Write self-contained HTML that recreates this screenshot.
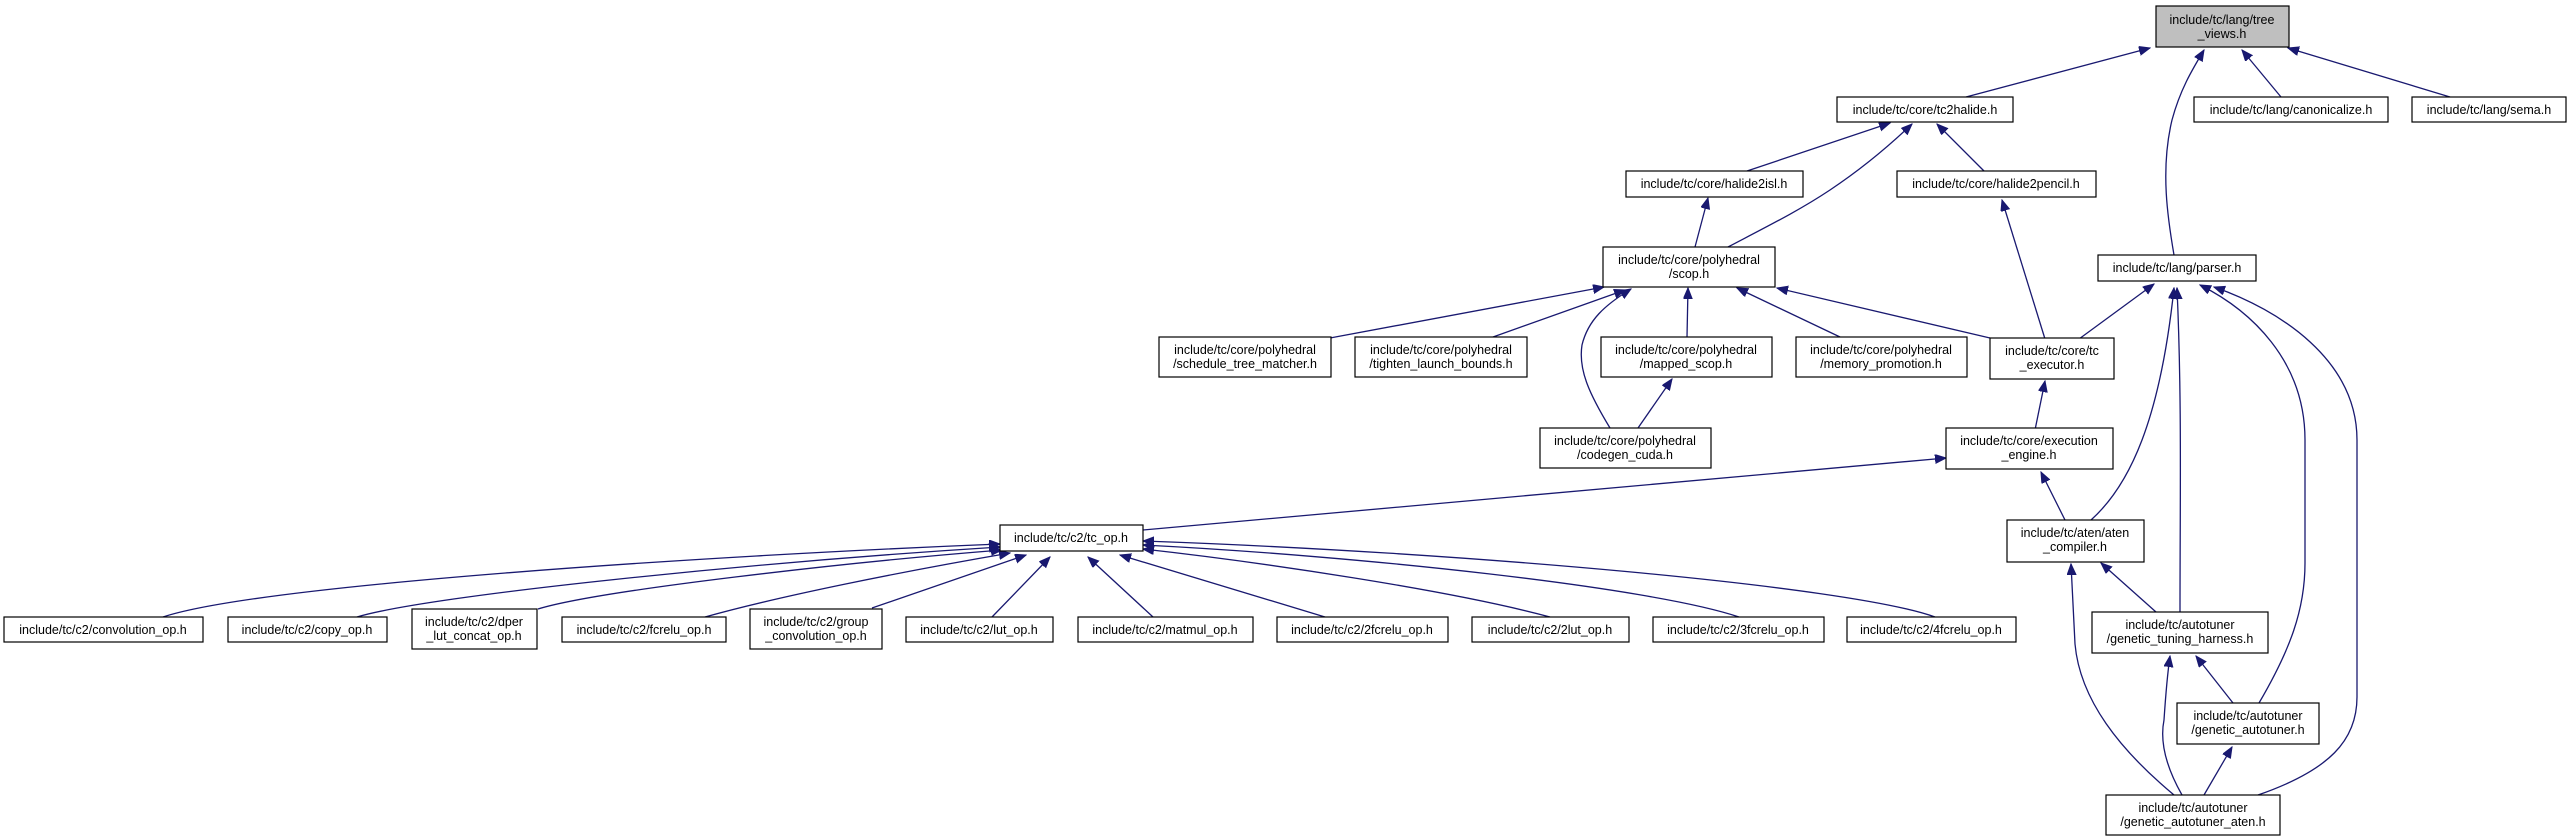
<!DOCTYPE html>
<html><head><meta charset="utf-8">
<style>
html,body{margin:0;padding:0;background:#fff;}
svg{display:block;}
text{font-family:"Liberation Sans",Helvetica,Arial,sans-serif;font-size:12.5px;fill:#000;text-anchor:middle;}
.n{fill:#fff;stroke:#000;stroke-width:1.2;}
.e{fill:none;stroke:#191970;stroke-width:1.3;marker-end:url(#a);}
</style></head><body>
<svg width="2569" height="837" viewBox="0 0 2569 837" xmlns="http://www.w3.org/2000/svg">
<defs>
<marker id="a" markerUnits="userSpaceOnUse" markerWidth="12" markerHeight="10" refX="11" refY="4.5" orient="auto">
<path d="M0,0 L11,4.5 L0,9 z" fill="#191970" stroke="#191970"/>
</marker>
</defs>

<!-- edges -->
<path class="e" d="M1966,97 L2150,48"/>
<path class="e" d="M2174,255 C2168,220 2160,170 2172,120 C2180,90 2192,70 2204,50"/>
<path class="e" d="M2281,97 L2242,50"/>
<path class="e" d="M2450,97 L2288,48"/>
<path class="e" d="M1747,171 L1890,123"/>
<path class="e" d="M1728,247 C1770,225 1800,210 1830,190 C1860,170 1890,145 1912,124"/>
<path class="e" d="M1984,171 L1937,124"/>
<path class="e" d="M1695,247 L1708,198"/>
<path class="e" d="M2045,339 L2002,200"/>
<path class="e" d="M1990,338 L1777,288"/>
<path class="e" d="M1330,338 L1604,287"/>
<path class="e" d="M1493,337 L1625,290"/>
<path class="e" d="M1687,337 L1688,288"/>
<path class="e" d="M1840,337 L1737,288"/>
<path class="e" d="M1610,428 C1590,395 1578,370 1582,345 C1588,320 1605,305 1631,289"/>
<path class="e" d="M1638,428 L1672,379"/>
<path class="e" d="M2079,339 L2154,284"/>
<path class="e" d="M2091,520 C2130,485 2160,420 2174,288"/>
<path class="e" d="M2180,612 C2180,500 2182,400 2177,288"/>
<path class="e" d="M2259,703 C2290,650 2305,610 2305,563 L2305,440 C2305,360 2250,310 2200,285"/>
<path class="e" d="M2258,795 C2330,770 2357,740 2357,697 L2357,440 C2357,360 2280,310 2214,287"/>
<path class="e" d="M2035,430 L2045,381"/>
<path class="e" d="M2065,520 L2041,472"/>
<path class="e" d="M2156,612 L2101,563"/>
<path class="e" d="M2174,795 C2120,750 2080,700 2075,644 L2071,564"/>
<path class="e" d="M2233,703 L2196,656"/>
<path class="e" d="M2182,795 C2165,765 2160,740 2164,720 C2166,690 2168,670 2170,656"/>
<path class="e" d="M2204,795 L2232,747"/>
<path class="e" d="M1143,530 L1946,458"/>
<path class="e" d="M163,617 C260,585 700,556 1000,544"/>
<path class="e" d="M357,617 C430,595 760,562 1000,547"/>
<path class="e" d="M538,609 C600,590 850,562 1002,550"/>
<path class="e" d="M705,617 C780,596 900,572 1010,553"/>
<path class="e" d="M872,608 L1026,555"/>
<path class="e" d="M992,617 L1050,557"/>
<path class="e" d="M1153,617 L1088,557"/>
<path class="e" d="M1325,617 L1120,555"/>
<path class="e" d="M1550,617 C1450,590 1260,562 1143,549"/>
<path class="e" d="M1739,617 C1650,587 1360,556 1143,545"/>
<path class="e" d="M1935,617 C1850,586 1460,552 1143,541"/>

<!-- nodes -->
<rect x="2156" y="6" width="133" height="41" fill="#bfbfbf" stroke="#000" stroke-width="1.2"/>
<text x="2222" y="24">include/tc/lang/tree</text><text x="2222" y="38">_views.h</text>

<rect class="n" x="1837" y="97" width="176" height="25"/><text x="1925" y="114">include/tc/core/tc2halide.h</text>
<rect class="n" x="2194" y="97" width="194" height="25"/><text x="2291" y="114">include/tc/lang/canonicalize.h</text>
<rect class="n" x="2412" y="97" width="154" height="25"/><text x="2489" y="114">include/tc/lang/sema.h</text>

<rect class="n" x="1626" y="171" width="177" height="26"/><text x="1714" y="188">include/tc/core/halide2isl.h</text>
<rect class="n" x="1897" y="171" width="199" height="26"/><text x="1996" y="188">include/tc/core/halide2pencil.h</text>

<rect class="n" x="1603" y="247" width="172" height="40"/><text x="1689" y="264">include/tc/core/polyhedral</text><text x="1689" y="278">/scop.h</text>
<rect class="n" x="2098" y="255" width="158" height="26"/><text x="2177" y="272">include/tc/lang/parser.h</text>

<rect class="n" x="1159" y="337" width="172" height="40"/><text x="1245" y="354">include/tc/core/polyhedral</text><text x="1245" y="368">/schedule_tree_matcher.h</text>
<rect class="n" x="1355" y="337" width="172" height="40"/><text x="1441" y="354">include/tc/core/polyhedral</text><text x="1441" y="368">/tighten_launch_bounds.h</text>
<rect class="n" x="1601" y="337" width="171" height="40"/><text x="1686" y="354">include/tc/core/polyhedral</text><text x="1686" y="368">/mapped_scop.h</text>
<rect class="n" x="1796" y="337" width="171" height="40"/><text x="1881" y="354">include/tc/core/polyhedral</text><text x="1881" y="368">/memory_promotion.h</text>
<rect class="n" x="1990" y="338" width="124" height="41"/><text x="2052" y="355">include/tc/core/tc</text><text x="2052" y="369">_executor.h</text>

<rect class="n" x="1540" y="428" width="171" height="40"/><text x="1625" y="445">include/tc/core/polyhedral</text><text x="1625" y="459">/codegen_cuda.h</text>
<rect class="n" x="1946" y="428" width="167" height="41"/><text x="2029" y="445">include/tc/core/execution</text><text x="2029" y="459">_engine.h</text>

<rect class="n" x="1000" y="525" width="143" height="26"/><text x="1071" y="542">include/tc/c2/tc_op.h</text>
<rect class="n" x="2007" y="520" width="137" height="42"/><text x="2075" y="537">include/tc/aten/aten</text><text x="2075" y="551">_compiler.h</text>

<rect class="n" x="4" y="617" width="199" height="25"/><text x="103" y="634">include/tc/c2/convolution_op.h</text>
<rect class="n" x="228" y="617" width="159" height="25"/><text x="307" y="634">include/tc/c2/copy_op.h</text>
<rect class="n" x="412" y="609" width="125" height="40"/><text x="474" y="626">include/tc/c2/dper</text><text x="474" y="640">_lut_concat_op.h</text>
<rect class="n" x="562" y="617" width="164" height="25"/><text x="644" y="634">include/tc/c2/fcrelu_op.h</text>
<rect class="n" x="750" y="609" width="132" height="40"/><text x="816" y="626">include/tc/c2/group</text><text x="816" y="640">_convolution_op.h</text>
<rect class="n" x="906" y="617" width="147" height="25"/><text x="979" y="634">include/tc/c2/lut_op.h</text>
<rect class="n" x="1078" y="617" width="175" height="25"/><text x="1165" y="634">include/tc/c2/matmul_op.h</text>
<rect class="n" x="1277" y="617" width="171" height="25"/><text x="1362" y="634">include/tc/c2/2fcrelu_op.h</text>
<rect class="n" x="1472" y="617" width="157" height="25"/><text x="1550" y="634">include/tc/c2/2lut_op.h</text>
<rect class="n" x="1653" y="617" width="171" height="25"/><text x="1738" y="634">include/tc/c2/3fcrelu_op.h</text>
<rect class="n" x="1847" y="617" width="169" height="25"/><text x="1931" y="634">include/tc/c2/4fcrelu_op.h</text>

<rect class="n" x="2092" y="612" width="176" height="41"/><text x="2180" y="629">include/tc/autotuner</text><text x="2180" y="643">/genetic_tuning_harness.h</text>
<rect class="n" x="2177" y="703" width="142" height="41"/><text x="2248" y="720">include/tc/autotuner</text><text x="2248" y="734">/genetic_autotuner.h</text>
<rect class="n" x="2106" y="795" width="174" height="40"/><text x="2193" y="812">include/tc/autotuner</text><text x="2193" y="826">/genetic_autotuner_aten.h</text>
</svg>
</body></html>
